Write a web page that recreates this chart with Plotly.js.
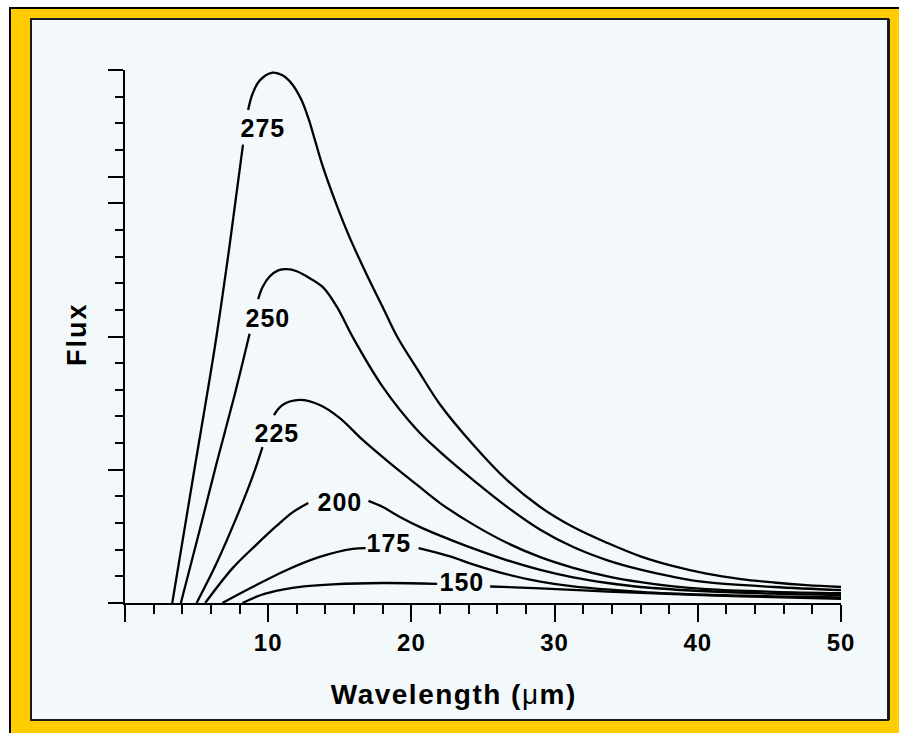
<!DOCTYPE html>
<html>
<head>
<meta charset="utf-8">
<script src="https://cdn.plot.ly/plotly-3.0.1.min.js"></script>
<style>
  html, body { margin: 0; padding: 0; background: #ffffff; }
  #chart { width: 899px; height: 733px; }
  .annotation text { letter-spacing: 1px; }
  .annotation[data-index="6"] text { letter-spacing: 1.5px; }
  .annotation[data-index="7"] text { letter-spacing: 2px; }
  .xtick text { letter-spacing: 1px; }
</style>
</head>
<body>
<div id="chart"></div>
<script>
// ---- Data (wavelength in micrometres, flux in axis units) ----
const temperatures = ['275', '250', '225', '200', '175', '150'];

const x275 = [3.3, 4.75, 6.3, 7.3, 8.24, null, 8.6, 8.9, 9.4, 10.3, 11.0, 11.7, 12.3, 12.8, 13.3, 13.8, 14.8, 15.7, 16.9, 18.0, 19.0, 20.5, 22.0, 24.3, 26.7, 29.0, 31.3, 33.7, 36.0, 38.3, 40.6, 43.0, 45.3, 47.6, 50];
const y275 = [0, 4.7, 9.7, 13.4, 17.2, null, 18.5, 19.1, 19.6, 19.9, 19.8, 19.45, 18.9, 18.2, 17.3, 16.4, 14.9, 13.7, 12.3, 11.1, 10.0, 8.7, 7.45, 5.95, 4.6, 3.6, 2.85, 2.25, 1.75, 1.38, 1.1, 0.9, 0.77, 0.67, 0.6];

const x250 = [3.9, 5.2, 6.4, 7.7, 8.7, null, 9.3, 9.6, 10.1, 10.7, 11.3, 12.0, 12.7, 13.8, 14.8, 15.9, 18.0, 20.4, 22.0, 24.3, 26.7, 29.0, 31.3, 33.7, 36.0, 38.3, 40.6, 45.3, 50];
const y250 = [0, 2.7, 5.25, 7.9, 10.1, null, 11.4, 11.85, 12.25, 12.48, 12.53, 12.45, 12.25, 11.86, 11.11, 9.98, 8.11, 6.49, 5.67, 4.62, 3.6, 2.75, 2.1, 1.6, 1.25, 0.98, 0.78, 0.6, 0.48];

const x225 = [5.0, 6.4, 7.8, 8.9, 9.6, null, 10.4, 11.0, 12.2, 13.6, 15.0, 16.6, 18.5, 20.4, 22.0, 24.3, 26.7, 29.0, 31.3, 33.7, 36.0, 38.3, 40.6, 45.3, 50];
const y225 = [0, 1.5, 3.23, 4.73, 5.85, null, 7.05, 7.43, 7.62, 7.43, 6.94, 6.12, 5.25, 4.43, 3.75, 2.95, 2.25, 1.72, 1.32, 1.0, 0.78, 0.62, 0.52, 0.42, 0.37];

const x200 = [5.6, 7.5, 9.2, 10.6, 11.7, 12.8, null, 17.0, 18.0, 19.2, 20.8, 22.7, 24.3, 26.7, 29.0, 31.3, 33.7, 36.0, 40.6, 45.3, 50];
const y200 = [0, 1.3, 2.2, 2.9, 3.4, 3.75, null, 3.83, 3.6, 3.23, 2.8, 2.38, 2.05, 1.6, 1.24, 0.96, 0.75, 0.6, 0.44, 0.35, 0.3];

const x175 = [6.8, 8.9, 11.3, 13.6, 15.9, 16.8, null, 20.5, 22.7, 24.3, 26.7, 29.0, 31.3, 36.0, 40.6, 45.3, 50];
const y175 = [0, 0.6, 1.24, 1.73, 2.03, 2.06, null, 2.06, 1.75, 1.45, 1.07, 0.8, 0.62, 0.42, 0.31, 0.25, 0.21];

const x150 = [8.2, 9.5, 11.0, 12.5, 14.5, 18.0, 21.8, null, 25.5, 29.0, 33.7, 38.3, 43.0, 50];
const y150 = [0, 0.3, 0.5, 0.62, 0.7, 0.75, 0.72, null, 0.62, 0.55, 0.43, 0.33, 0.25, 0.16];

// label anchor points on each curve (data coordinates)
const labelX = [9.64, 9.99, 10.61, 15.01, 18.44, 23.53];
const labelY = [17.82, 10.69, 6.38, 3.79, 2.25, 0.79];

const xTickVals = [0, 10, 20, 30, 40, 50];
const xTickText = ['', '10', '20', '30', '40', '50'];
const yMajorTicks = [0, 5, 10, 15, 16, 20];

const xTitle = 'Wavelength (<span style="font-weight:normal">μ</span>m)';
const yTitle = 'Flux';

// ---- Layout geometry ----
const W = 899, H = 733;
const M = { l: 125, r: 58, t: 70, b: 130 };
const PW = W - M.l - M.r, PH = H - M.t - M.b;
const px = X => (X - M.l) / PW;
const py = Y => (H - M.b - Y) / PH;

const FONT = 'Liberation Sans, Arial, Helvetica, sans-serif';
const PANEL = '#f3f8fb';

const xs = [x275, x250, x225, x200, x175, x150];
const ys = [y275, y250, y225, y200, y175, y150];

const traces = temperatures.map((t, i) => ({
  type: 'scatter', mode: 'lines', name: t + ' K',
  x: xs[i], y: ys[i], connectgaps: false,
  line: { color: '#000000', width: 2.3, shape: 'spline', smoothing: 1.0 },
  hoverinfo: 'skip'
}));

const annotations = temperatures.map((t, i) => ({
  x: labelX[i], y: labelY[i], xref: 'x', yref: 'y',
  text: t, showarrow: false, xanchor: 'center', yanchor: 'middle',
  font: { family: FONT, size: 25, weight: 'bold', color: '#000' }
}));
annotations.push({
  x: px(454), y: py(694), xref: 'paper', yref: 'paper', text: xTitle, showarrow: false,
  xanchor: 'center', yanchor: 'middle',
  font: { family: FONT, size: 28, weight: 'bold', color: '#000' }
});
annotations.push({
  x: px(77), y: py(334), xref: 'paper', yref: 'paper', text: yTitle, showarrow: false,
  textangle: -90, xanchor: 'center', yanchor: 'middle',
  font: { family: FONT, size: 27, weight: 'bold', color: '#000' }
});

const shapes = [
  { type: 'rect', xref: 'paper', yref: 'paper', layer: 'below',
    x0: px(10), x1: px(905), y0: py(745), y1: py(8),
    fillcolor: '#FFCC00', line: { color: '#000', width: 2 } },
  { type: 'rect', xref: 'paper', yref: 'paper', layer: 'below',
    x0: px(31), x1: px(888), y0: py(720), y1: py(19),
    fillcolor: PANEL, line: { color: '#1a1a1a', width: 2 } },
  { type: 'line', xref: 'paper', yref: 'paper', layer: 'below',
    x0: px(888.5), x1: px(888.5), y0: py(720), y1: py(19),
    line: { color: '#1a1a1a', width: 3 } }
];

const layout = {
  width: W, height: H,
  margin: M,
  paper_bgcolor: '#ffffff',
  plot_bgcolor: 'rgba(0,0,0,0)',
  showlegend: false,
  hovermode: false,
  font: { family: FONT, color: '#000' },
  xaxis: {
    range: [0, 50], showgrid: false, zeroline: false,
    showline: true, linecolor: '#000', linewidth: 2,
    tickmode: 'array', tickvals: xTickVals, ticktext: xTickText,
    ticks: 'outside', ticklen: 17, tickwidth: 2, tickcolor: '#000',
    tickfont: { family: FONT, size: 24, weight: 'bold', color: '#000' },
    minor: { tickmode: 'linear', tick0: 0, dtick: 2, ticks: 'outside', ticklen: 9, tickwidth: 2, tickcolor: '#000', showgrid: false },
    fixedrange: true
  },
  yaxis: {
    range: [0, 20], showgrid: false, zeroline: false,
    showline: true, linecolor: '#000', linewidth: 2,
    tickmode: 'array', tickvals: yMajorTicks, showticklabels: false,
    ticks: 'outside', ticklen: 15, tickwidth: 2, tickcolor: '#000',
    minor: { tickmode: 'linear', tick0: 0, dtick: 1, ticks: 'outside', ticklen: 8, tickwidth: 2, tickcolor: '#000', showgrid: false },
    fixedrange: true
  },
  shapes: shapes,
  annotations: annotations
};

Plotly.newPlot('chart', traces, layout, { staticPlot: true, displayModeBar: false });
</script>
</body>
</html>
